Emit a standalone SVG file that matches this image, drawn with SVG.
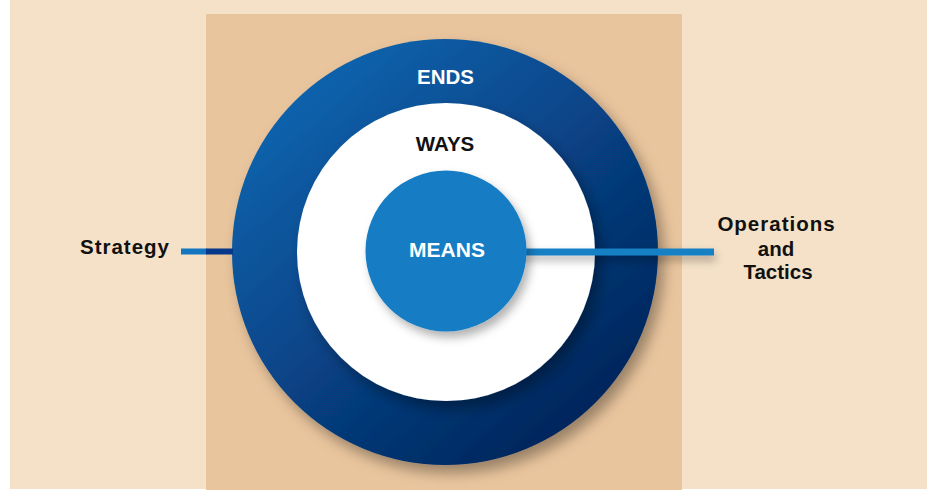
<svg xmlns="http://www.w3.org/2000/svg" width="929" height="491" viewBox="0 0 929 491">
<defs>
<linearGradient id="ringGrad" x1="0.15" y1="0.1" x2="0.85" y2="0.9">
<stop offset="0" stop-color="#0d64ae"/>
<stop offset="0.5" stop-color="#074285"/>
<stop offset="1" stop-color="#032459"/>
</linearGradient>
<filter id="shadow" x="-20%" y="-20%" width="150%" height="150%">
<feDropShadow dx="6" dy="8" stdDeviation="7" flood-color="#000" flood-opacity="0.35"/>
</filter>
<filter id="shadowSm" x="-20%" y="-20%" width="150%" height="150%">
<feDropShadow dx="4" dy="6" stdDeviation="5" flood-color="#000" flood-opacity="0.3"/>
</filter>
<filter id="lineShadow" x="-5%" y="-200%" width="110%" height="600%">
<feDropShadow dx="2" dy="5" stdDeviation="4" flood-color="#000" flood-opacity="0.3"/>
</filter>
<style>
.lbl{font-family:"Liberation Sans",Arial,sans-serif;font-weight:700;text-anchor:middle;font-size:20.5px}
.sp{letter-spacing:1px}
.w{fill:#ffffff}
.k{fill:#111111}
</style>
</defs>
<rect x="0" y="0" width="929" height="491" fill="#ffffff"/>
<rect x="10" y="0" width="917" height="489" fill="#f4e1c8"/>
<rect x="206" y="14" width="476" height="476" fill="#e9c59d"/>
<g id="ends">
<circle cx="445" cy="252" r="213" fill="url(#ringGrad)" filter="url(#shadow)"/>
<text class="lbl w" x="445.5" y="83.5">ENDS</text>
</g>
<g id="ways">
<circle cx="446" cy="252" r="149" fill="#ffffff" filter="url(#shadow)"/>
<text class="lbl k" x="445" y="151">WAYS</text>
</g>
<g id="connectors">
<rect x="181" y="248.5" width="26" height="6" fill="#1277c0"/>
<rect x="206" y="248.5" width="27" height="6" fill="#05378a"/>
<rect x="520" y="248.5" width="194" height="7" fill="#1580c4" filter="url(#lineShadow)"/>
</g>
<g id="means">
<circle cx="446" cy="251" r="80.5" fill="#147cc3" filter="url(#shadowSm)"/>
<text class="lbl w" x="447" y="257" style="font-size:21px">MEANS</text>
</g>
<g id="strategy">
<text class="lbl k sp" x="125" y="254">Strategy</text>
</g>
<g id="operations">
<text class="lbl k sp" x="776.5" y="231">Operations</text>
<text class="lbl k" x="776" y="255.5">and</text>
<text class="lbl k" x="778" y="279">Tactics</text>
</g>
</svg>
